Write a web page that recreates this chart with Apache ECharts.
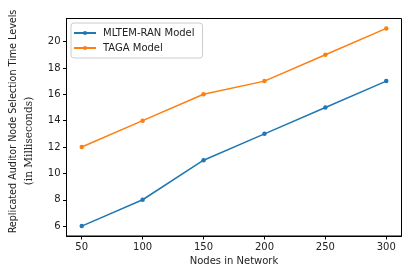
<!DOCTYPE html>
<html><head><meta charset="utf-8">
<script src="https://cdn.jsdelivr.net/npm/echarts@6/dist/echarts.min.js"></script>
<style>html,body{margin:0;padding:0;background:#fff}#c{width:416px;height:274px}</style>
</head><body><div id="c"></div>
<script>
const nodes = [50, 100, 150, 200, 250, 300];
const mltemRan = [6, 8, 11, 13, 15, 17];
const taga = [12, 14, 16, 17, 19, 21];
const xTicks = [50, 100, 150, 200, 250, 300];
const yTicks = [6, 8, 10, 12, 14, 16, 18, 20];
const seriesNames = ['MLTEM-RAN Model', 'TAGA Model'];
const xTitle = 'Nodes in Network';
const yTitle1 = 'Replicated Auditor Node Selection Time Levels';
const yTitle2 = '(in Milliseconds)';

const chart = echarts.init(document.getElementById('c'), null, {renderer: 'canvas'});
const font = 'DejaVu Sans';
const axisCommon = {
  axisLine: {show: true, onZero: false, lineStyle: {color: '#000', width: 1}},
  axisTick: {show: true, inside: false, length: 3.5, lineStyle: {color: '#000'}},
  splitLine: {show: false},
  axisLabel: {color: '#222', fontFamily: font, fontSize: 10}
};
const mk = (name, data, color) => ({
  name, type: 'line', data: nodes.map((n, i) => [n, data[i]]),
  symbol: 'circle', symbolSize: 4.5, showSymbol: true,
  lineStyle: {width: 1.5, color}, itemStyle: {color}, animation: false
});
chart.setOption({
  animation: false,
  grid: {left: 66.5, right: 14.5, top: 18.5, bottom: 38, show: true, borderColor: '#000', borderWidth: 1, backgroundColor: 'transparent'},
  xAxis: Object.assign({}, axisCommon, {
    type: 'value', min: 37.5, max: 312.5,
    axisLabel: Object.assign({}, axisCommon.axisLabel, {customValues: xTicks, margin: 6}),
    axisTick: Object.assign({}, axisCommon.axisTick, {customValues: xTicks}),
    name: xTitle, nameLocation: 'middle', nameGap: 19,
    nameTextStyle: {color: '#222', fontFamily: font, fontSize: 10}
  }),
  yAxis: Object.assign({}, axisCommon, {
    type: 'value', min: 5.25, max: 21.75,
    axisLabel: Object.assign({}, axisCommon.axisLabel, {customValues: yTicks, margin: 6}),
    axisTick: Object.assign({}, axisCommon.axisTick, {customValues: yTicks})
  }),
  legend: {
    left: 71, top: 23, orient: 'vertical', itemGap: 3,
    itemWidth: 22, itemHeight: 5,
    padding: [4, 8, 4, 2],
    borderColor: '#ccc', borderWidth: 1, borderRadius: 3,
    textStyle: {color: '#222', fontFamily: font, fontSize: 10, padding: [0, 0, 0, 2], lineHeight: 12},
    data: seriesNames
  },
  graphic: [
    {type: 'text', x: 13, y: 121.5, rotation: Math.PI / 2, style: {text: yTitle1, fill: '#222', font: '9.6px "DejaVu Sans"', align: 'center', verticalAlign: 'middle'}},
    {type: 'text', x: 29.5, y: 141, rotation: Math.PI / 2, style: {text: yTitle2, fill: '#222', font: '10.5px "DejaVu Serif"', align: 'center', verticalAlign: 'middle'}}
  ],
  series: [mk(seriesNames[0], mltemRan, '#1f77b4'), mk(seriesNames[1], taga, '#ff7f0e')]
});
</script></body></html>
